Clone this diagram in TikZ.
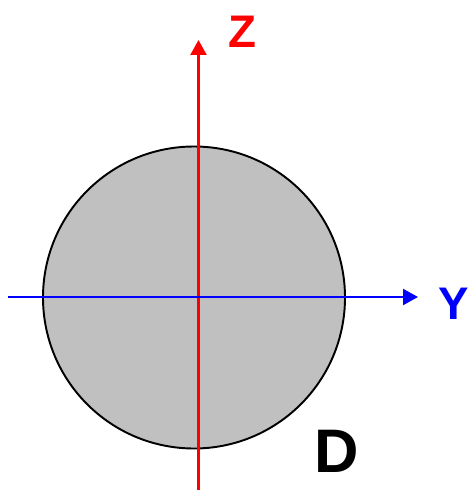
\documentclass[tikz,border=0pt]{standalone}
\usepackage{fontspec}
\setmainfont{Liberation Sans}
\usetikzlibrary{arrows.meta}
\definecolor{sectiongray}{RGB}{192,192,192}
\begin{document}
\begin{tikzpicture}[x=0.02cm, y=-0.02cm,
  axlabel/.style={inner sep=0pt, font=\bfseries\fontsize{26}{28}\selectfont},
  axisline/.style={line width=1.5pt, -{Triangle[length=8.5pt, width=9pt]}}]
\useasboundingbox (0,0) rectangle (470,490);
% Section
\fill[sectiongray] (194,297.5) circle[radius=151];
\draw[line width=1.1pt] (194,297.5) circle[radius=151];
% Axis end points
\coordinate (zlow) at (198.5,490);
\coordinate (ztop) at (198.5,40);
\coordinate (yleft) at (8,297);
\coordinate (yright) at (418,297);
% Axes
\draw[axisline, red] (zlow) -- (ztop);
\draw[axisline, blue] (yleft) -- (yright);
% Labels
\node[axlabel, red] (zlab) at (242.5,31.5) {Z};
\node[axlabel, blue] (ylab) at (454,303.5) {Y};
\node[inner sep=0pt, font=\bfseries\fontsize{35}{38}\selectfont] (dlab) at (337,451) {D};
\end{tikzpicture}
\end{document}
